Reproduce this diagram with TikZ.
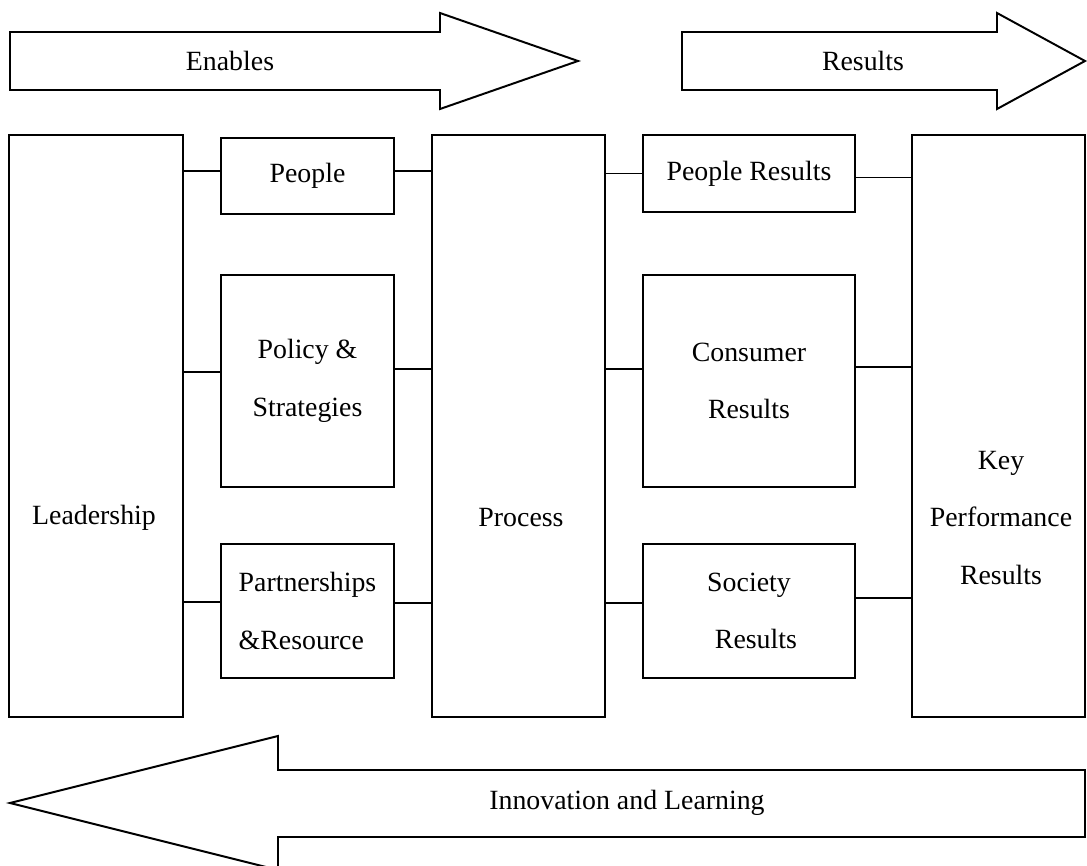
\documentclass[tikz,border=0pt]{standalone}
\usepackage{fontspec}
\setmainfont{Liberation Serif}
\usepackage{tikz}
\usetikzlibrary{positioning, calc}

\begin{document}
\begin{tikzpicture}[
    x=0.025cm, y=-0.025cm,
    line width=1.4pt,
    font=\fontsize{19.8}{41}\selectfont,
    pillar/.style={draw, inner sep=0pt, minimum width=4.35cm, minimum height=14.55cm},
    enabler/.style={draw, inner sep=0pt, align=center, minimum width=4.325cm},
    result/.style={draw, inner sep=0pt, align=center, minimum width=5.3cm},
    banner/.style={draw, line join=miter}
]

\useasboundingbox (0,0) rectangle (1087,866);
\clip (0,0) rectangle (1087,866);

% Top Arrows
\draw[banner] (10,32) -- (440,32) -- (440,13) -- (578,61) -- (440,109) -- (440,90) -- (10,90) -- cycle;
\node (enables) at (230,61) {Enables};
\draw[banner] (682,32) -- (997,32) -- (997,13) -- (1085,61) -- (997,109) -- (997,90) -- (682,90) -- cycle;
\node (results) at (863,61) {Results};

% Leadership
\node[pillar] (lead) at (96,426) {};
\node (leadtxt) at (94,518) {Leadership};

% Enablers
\node[enabler, minimum height=1.9cm] (people) at (307.5,176) {People};
\node[enabler, minimum height=5.3cm] (policy) at (307.5,381) {Policy \&\\Strategies};
\node[enabler, minimum height=3.35cm, align=left] (partner) at (307.5,611) {Partnerships\\\&Resource};

% Process
\node[pillar, minimum width=4.325cm] (proc) at (518.5,426) {};
\node (proctxt) at (521,518) {Process};

% Results
\node[result, minimum height=1.925cm] (presult) at (749,173.5) {People Results};
\node[result, minimum height=5.3cm] (consumer) at (749,381) {Consumer\\Results};
\node[result, minimum height=3.35cm] (society) at (749,611) {Society\\\ \ Results};

% Key Performance Results
\node[pillar, minimum width=4.325cm] (kpr) at (998.5,426) {};
\node[align=center] (kprtxt) at (1001,518) {Key\\Performance\\Results};

% Bottom Arrow
\draw[banner] (1085,770) -- (278,770) -- (278,736) -- (10,803) -- (278,870) -- (278,837) -- (1085,837) -- cycle;
\node (learning) at (627,803) {Innovation and Learning};

% Connections
\draw ([yshift=0.125cm]people.west) -- ([yshift=0.125cm]people.west -| lead.east);
\draw ([yshift=0.125cm]people.east) -- ([yshift=0.125cm]people.east -| proc.west);
\draw ([yshift=0.225cm]policy.west) -- ([yshift=0.225cm]policy.west -| lead.east);
\draw ([yshift=0.3cm]policy.east) -- ([yshift=0.3cm]policy.east -| proc.west);
\draw ([yshift=0.225cm]partner.west) -- ([yshift=0.225cm]partner.west -| lead.east);
\draw ([yshift=0.2cm]partner.east) -- ([yshift=0.2cm]partner.east -| proc.west);
\draw (presult.west) -- (presult.west -| proc.east);
\draw ([yshift=-0.1cm]presult.east) -- ([yshift=-0.1cm]presult.east -| kpr.west);
\draw ([yshift=0.3cm]consumer.west) -- ([yshift=0.3cm]consumer.west -| proc.east);
\draw ([yshift=0.35cm]consumer.east) -- ([yshift=0.35cm]consumer.east -| kpr.west);
\draw ([yshift=0.2cm]society.west) -- ([yshift=0.2cm]society.west -| proc.east);
\draw ([yshift=0.325cm]society.east) -- ([yshift=0.325cm]society.east -| kpr.west);

\end{tikzpicture}
\end{document}
